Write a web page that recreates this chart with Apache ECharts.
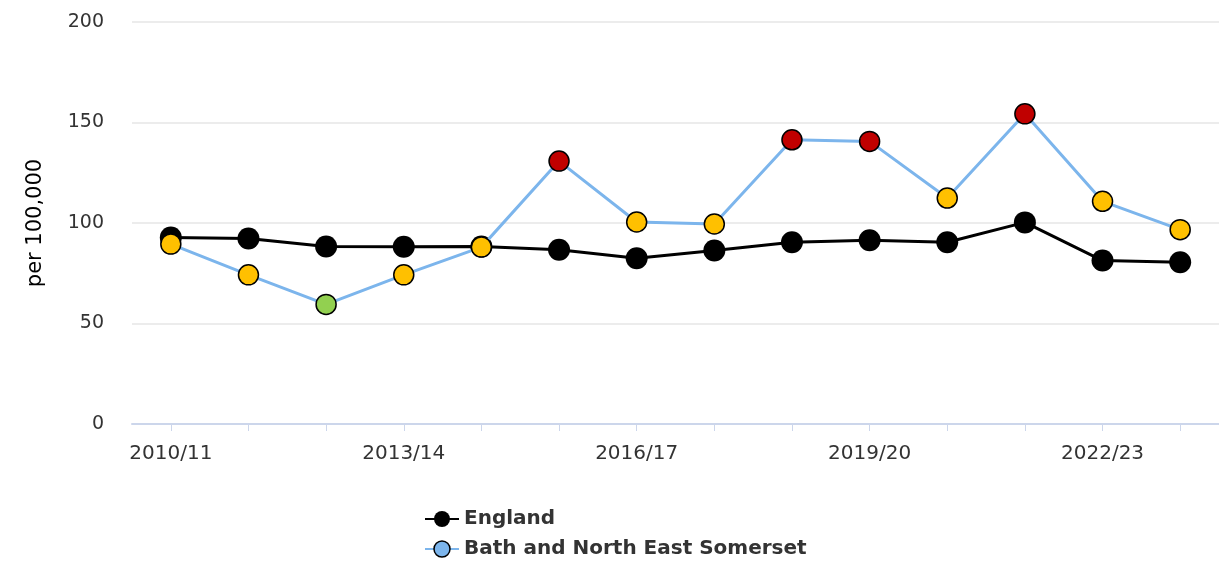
<!DOCTYPE html>
<html>
<head>
<meta charset="utf-8">
<script src="https://cdn.jsdelivr.net/npm/echarts@6/dist/echarts.min.js"></script>
<style>
  html, body { margin: 0; padding: 0; background: #fff; }
  #main { width: 1219px; height: 561px; }
</style>
</head>
<body>
<div id="main"></div>
<script>
var years = ['2010/11', '2011/12', '2012/13', '2013/14', '2014/15', '2015/16', '2016/17',
  '2017/18', '2018/19', '2019/20', '2020/21', '2021/22', '2022/23', '2023/24'];
var england = [92.8, 92.3, 88.3, 88.2, 88.3, 86.7, 82.5, 86.3, 90.4, 91.4, 90.4, 100.3, 81.3, 80.5];
var bath = [89.5, 74.2, 59.5, 74.2, 88.0, 130.8, 100.5, 99.5, 141.4, 140.6, 112.4, 154.3, 110.8, 96.7];
// comparison with England per point: similar / higher / lower
var bathRating = ['similar', 'similar', 'better', 'similar', 'similar', 'worse', 'similar',
  'similar', 'worse', 'worse', 'similar', 'worse', 'similar', 'similar'];
var ratingColours = { similar: '#ffc000', worse: '#c00000', better: '#92d050' };

var bathPoints = bath.map(function (v, i) {
  return { value: v, itemStyle: { color: ratingColours[bathRating[i]] } };
});

var myChart = echarts.init(document.getElementById('main'));
myChart.setOption({
  animation: false,
  textStyle: { fontFamily: 'DejaVu Sans' },
  grid: { left: 132, right: -8, top: 22, bottom: 137, containLabel: false },
  legend: {
    orient: 'vertical',
    left: 424,
    top: 509,
    padding: 0,
    itemGap: 10,
    itemWidth: 34,
    itemHeight: 20,
    textStyle: { fontSize: 20, fontWeight: 'bold', color: '#333', fontFamily: 'DejaVu Sans' },
    data: [
      { name: 'England', itemStyle: { color: '#000' } },
      { name: 'Bath and North East Somerset', itemStyle: { color: '#7cb5ec', borderColor: '#000', borderWidth: 1.5 } }
    ]
  },
  xAxis: {
    type: 'category',
    data: years,
    boundaryGap: true,
    axisLine: { lineStyle: { color: '#ccd6eb', width: 2 } },
    axisTick: { show: true, interval: 0, alignWithLabel: true, length: 7, lineStyle: { color: '#ccd6eb' } },
    axisLabel: { interval: 2, margin: 20, fontSize: 20, color: '#333' }
  },
  yAxis: {
    type: 'value',
    min: 0,
    max: 200,
    interval: 50,
    name: 'per 100,000',
    nameLocation: 'middle',
    nameGap: 86,
    nameTextStyle: { fontSize: 21, color: '#000' },
    axisLine: { show: false },
    axisTick: { show: false },
    axisLabel: { margin: 28, fontSize: 19, color: '#333' },
    splitLine: { lineStyle: { color: '#e6e6e6', width: 1.5 } }
  },
  series: [
    {
      name: 'England',
      type: 'line',
      data: england,
      symbol: 'circle',
      symbolSize: 22,
      lineStyle: { color: '#000', width: 3 },
      itemStyle: { color: '#000' },
      z: 2
    },
    {
      name: 'Bath and North East Somerset',
      type: 'line',
      data: bathPoints,
      symbol: 'circle',
      symbolSize: 20,
      lineStyle: { color: '#7cb5ec', width: 3 },
      itemStyle: { color: '#7cb5ec', borderColor: '#000', borderWidth: 1.5 },
      z: 3
    }
  ]
});
</script>
</body>
</html>
